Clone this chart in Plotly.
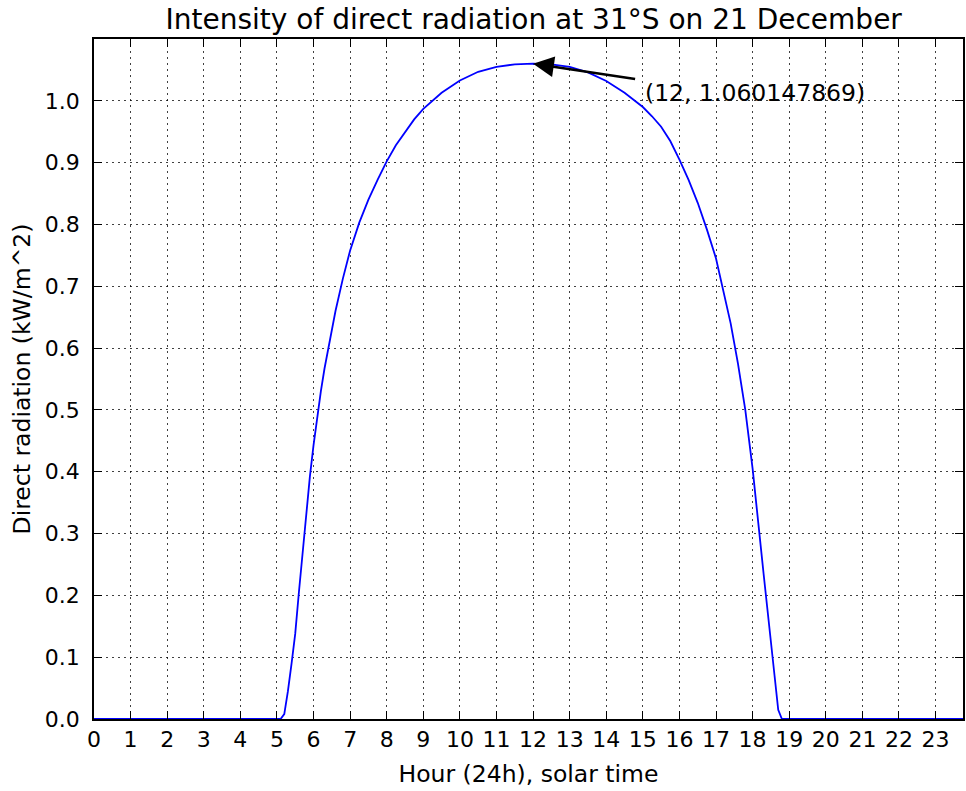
import plotly.graph_objects as go

# Solar time (hours) and direct beam radiation (kW/m^2) read along the day
hours = [0.0, 5.1, 5.2, 5.3, 5.4, 5.5, 5.6, 5.7, 5.8, 5.9, 6.0, 6.1, 6.2, 6.3, 6.4,
         6.5, 6.6, 6.8, 7.0, 7.25, 7.5, 7.75, 8.0, 8.25, 8.5, 8.75, 9.0, 9.5, 10.0,
         10.5, 11.0, 11.5, 12.0, 12.5, 13.0, 13.5, 14.0, 14.5, 15.0, 15.25, 15.5,
         15.75, 16.0, 16.25, 16.5, 16.75, 17.0, 17.2, 17.4, 17.6, 17.8, 18.0, 18.1,
         18.2, 18.3, 18.4, 18.5, 18.6, 18.7, 18.8, 23.75]
radiation = [0.0, 0.0, 0.008, 0.045, 0.09, 0.138, 0.205, 0.27, 0.335, 0.392, 0.443,
             0.488, 0.53, 0.567, 0.60, 0.63, 0.66, 0.712, 0.758, 0.803, 0.84, 0.872,
             0.902, 0.928, 0.950, 0.970, 0.987, 1.013, 1.033, 1.047, 1.055, 1.059,
             1.060147869, 1.059, 1.055, 1.046, 1.032, 1.013, 0.990, 0.975, 0.958,
             0.935, 0.905, 0.872, 0.835, 0.792, 0.745, 0.695, 0.640, 0.575, 0.500,
             0.405, 0.345, 0.290, 0.235, 0.180, 0.120, 0.070, 0.015, 0.0, 0.0]

peak_hour = 12
peak_value = 1.060147869
peak_label = "(12, 1.060147869)"

x_ticks = list(range(0, 24))
y_ticks = [round(0.1 * i, 1) for i in range(0, 11)]

FONT = "DejaVu Sans"

fig = go.Figure()
fig.add_trace(go.Scatter(
    x=hours, y=radiation, mode="lines",
    line=dict(color="#0000ff", width=1.8),
    showlegend=False, hoverinfo="skip",
))

axis_common = dict(
    showline=True, linecolor="black", linewidth=1.5, mirror="ticks",
    ticks="inside", ticklen=8, tickwidth=1.2, tickcolor="black",
    showgrid=True, gridcolor="rgba(0,0,0,0.75)", gridwidth=1,
    griddash="2px,4px", zeroline=False,
    tickfont=dict(family=FONT, size=22, color="black"),
)

fig.update_xaxes(
    range=[0, 23.75], tickvals=x_ticks, ticktext=[str(t) for t in x_ticks],
    title=dict(text="Hour (24h), solar time", font=dict(family=FONT, size=23.5, color="black"),
               standoff=14),
    **axis_common,
)
fig.update_yaxes(
    range=[0, 1.1], tickvals=y_ticks, ticktext=[f"{v:.1f}" for v in y_ticks],
    ticklabelstandoff=8,
    title=dict(text="Direct radiation (kW/m^2)", font=dict(family=FONT, size=23.5, color="black"),
               standoff=8),
    **axis_common,
)

# Arrow pointing at the daily maximum
fig.add_annotation(
    x=peak_hour, y=peak_value, ax=14.83, ay=1.035,
    xref="x", yref="y", axref="x", ayref="y",
    text="", showarrow=True, arrowhead=2, arrowsize=1.6, arrowwidth=2.6,
    arrowcolor="black", standoff=0,
)
fig.add_annotation(
    x=15.0, y=1.0125, xref="x", yref="y", text=peak_label, showarrow=False,
    xanchor="left", yanchor="middle",
    font=dict(family=FONT, size=23.5, color="black"),
)

fig.update_layout(
    width=966, height=791,
    margin=dict(l=94, r=1, t=39, b=72),
    paper_bgcolor="white", plot_bgcolor="white",
    title=dict(text="Intensity of direct radiation at 31°S on 21 December",
               x=0.5525, xanchor="center", y=0.976, yanchor="middle",
               font=dict(family=FONT, size=28, color="black")),
)

fig.write_html("out.html")
